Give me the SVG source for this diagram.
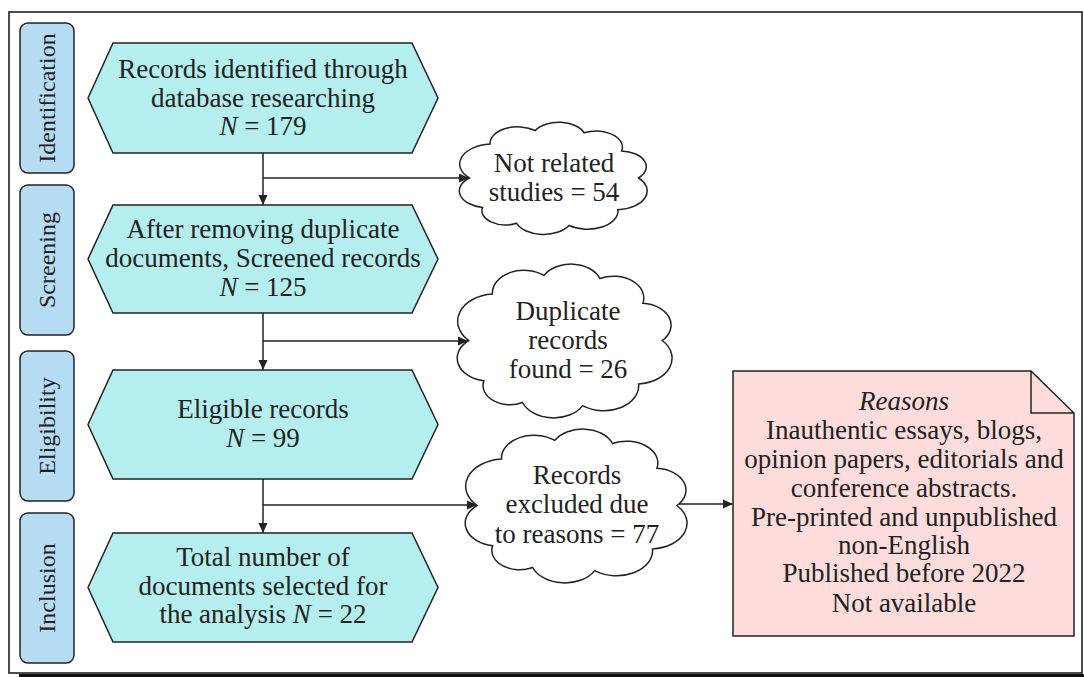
<svg xmlns="http://www.w3.org/2000/svg" xmlns:xlink="http://www.w3.org/1999/xlink" width="1084" height="677" viewBox="0 0 1084 677">
<style>
  text { font-family: "Liberation Serif", "Times New Roman", serif; fill: #222; }
  .t { font-size: 27px; text-anchor: middle; }
  .side { font-size: 24px; text-anchor: middle; }
  .lane { fill: #b6dcf4; stroke: #222; stroke-width: 1.5; }
  .hex { fill: #b4eeee; stroke: #222; stroke-width: 1.5; }
  .cloud { fill: #fff; stroke: #222; stroke-width: 1.5; }
  .note { fill: #fddcdb; stroke: #222; stroke-width: 1.5; }
  .conn { stroke: #222; stroke-width: 1.5; fill: none; }
  .arr { marker-end: url(#ah); }
</style>
<defs>
  <marker id="ah" markerUnits="userSpaceOnUse" markerWidth="10" markerHeight="10" refX="10" refY="5" orient="auto">
    <path d="M0,0.5 L10,5 L0,9.5 Z" fill="#222"/>
  </marker>
  <path id="cloudshape" vector-effect="non-scaling-stroke" d="M5,50 A17.6,17.6 0 0 1 16,20 A14.7,14.7 0 0 1 40,8 A14.4,14.4 0 0 1 66,10 A14.1,14.1 0 0 1 86,26 A14.1,14.1 0 0 1 95,50 A16.6,16.6 0 0 1 84,78 A16.2,16.2 0 0 1 58,92 A15.5,15.5 0 0 1 30,90 A12.5,12.5 0 0 1 12,76 A14.8,14.8 0 0 1 5,50 Z"/>
</defs>
<rect x="0" y="0" width="1084" height="677" fill="#fff"/>
<g id="frame">
  <rect x="9" y="12" width="1073" height="661" fill="none" stroke="#111" stroke-width="1.5"/>
  <line x1="19" y1="675.5" x2="1084" y2="675.5" stroke="#111" stroke-width="3"/>
</g>
<g id="lane-identification">
  <rect class="lane" x="20" y="23" width="54" height="150" rx="8"/>
  <text class="side" transform="translate(47,98) rotate(-90)" y="8">Identification</text>
</g>
<g id="lane-screening">
  <rect class="lane" x="20" y="185" width="54" height="150" rx="8"/>
  <text class="side" transform="translate(47,260) rotate(-90)" y="8">Screening</text>
</g>
<g id="lane-eligibility">
  <rect class="lane" x="20" y="351" width="54" height="150" rx="8"/>
  <text class="side" transform="translate(47,426) rotate(-90)" y="8">Eligibility</text>
</g>
<g id="lane-inclusion">
  <rect class="lane" x="20" y="513" width="54" height="150" rx="8"/>
  <text class="side" transform="translate(47,588) rotate(-90)" y="8">Inclusion</text>
</g>
<g id="connectors">
  <line class="conn arr" x1="263" y1="153" x2="263" y2="205"/>
  <line class="conn arr" x1="263" y1="178" x2="469" y2="178"/>
  <line class="conn arr" x1="263" y1="313" x2="263" y2="370"/>
  <line class="conn arr" x1="263" y1="341" x2="468" y2="341"/>
  <line class="conn arr" x1="263" y1="479" x2="263" y2="533"/>
  <line class="conn arr" x1="263" y1="505" x2="477" y2="505"/>
  <line class="conn arr" x1="677" y1="504" x2="733" y2="504"/>
</g>
<g id="n-identified">
  <polygon class="hex" points="88,98 113,43 412,43 438,98 412,153 113,153"/>
  <text class="t" x="263" y="78">Records identified through</text>
  <text class="t" x="263" y="107">database researching</text>
  <text class="t" x="263" y="135"><tspan font-style="italic">N</tspan> = 179</text>
</g>
<g id="n-screened">
  <polygon class="hex" points="88,259 113,205 412,205 438,259 412,313 113,313"/>
  <text class="t" x="263" y="238">After removing duplicate</text>
  <text class="t" x="263" y="267">documents, Screened records</text>
  <text class="t" x="263" y="296"><tspan font-style="italic">N</tspan> = 125</text>
</g>
<g id="n-eligible">
  <polygon class="hex" points="88,424.5 113,370 412,370 438,424.5 412,479 113,479"/>
  <text class="t" x="263" y="418">Eligible records</text>
  <text class="t" x="263" y="447"><tspan font-style="italic">N</tspan> = 99</text>
</g>
<g id="n-included">
  <polygon class="hex" points="88,587.5 113,533 412,533 438,587.5 412,642 113,642"/>
  <text class="t" x="263" y="566">Total number of</text>
  <text class="t" x="263" y="595">documents selected for</text>
  <text class="t" x="263" y="623">the analysis <tspan font-style="italic">N</tspan> = 22</text>
</g>
<g id="c-notrelated">
  <use class="cloud" xlink:href="#cloudshape" href="#cloudshape" transform="translate(460,121.5) scale(1.88,1.13)"/>
  <text class="t" x="554" y="172">Not related</text>
  <text class="t" x="554" y="201">studies = 54</text>
</g>
<g id="c-duplicate">
  <use class="cloud" xlink:href="#cloudshape" href="#cloudshape" transform="translate(458,263) scale(2.15,1.55)"/>
  <text class="t" x="568" y="320">Duplicate</text>
  <text class="t" x="568" y="349">records</text>
  <text class="t" x="568" y="378">found = 26</text>
</g>
<g id="c-excluded">
  <use class="cloud" xlink:href="#cloudshape" href="#cloudshape" transform="translate(466,428) scale(2.22,1.55)"/>
  <text class="t" x="577" y="484">Records</text>
  <text class="t" x="577" y="513">excluded due</text>
  <text class="t" x="577" y="543">to reasons = 77</text>
</g>
<g id="n-reasons">
  <path class="note" d="M733,371 L1031,371 L1074,413 L1074,636 L733,636 Z"/>
  <path class="conn" d="M1031,371 L1031,413 L1074,413"/>
  <text class="t" x="904" y="410" font-style="italic">Reasons</text>
  <text class="t" x="904" y="439">Inauthentic essays, blogs,</text>
  <text class="t" x="904" y="468">opinion papers, editorials and</text>
  <text class="t" x="904" y="497">conference abstracts.</text>
  <text class="t" x="904" y="526">Pre-printed and unpublished</text>
  <text class="t" x="904" y="554">non-English</text>
  <text class="t" x="904" y="582">Published before 2022</text>
  <text class="t" x="904" y="612">Not available</text>
</g>
</svg>
